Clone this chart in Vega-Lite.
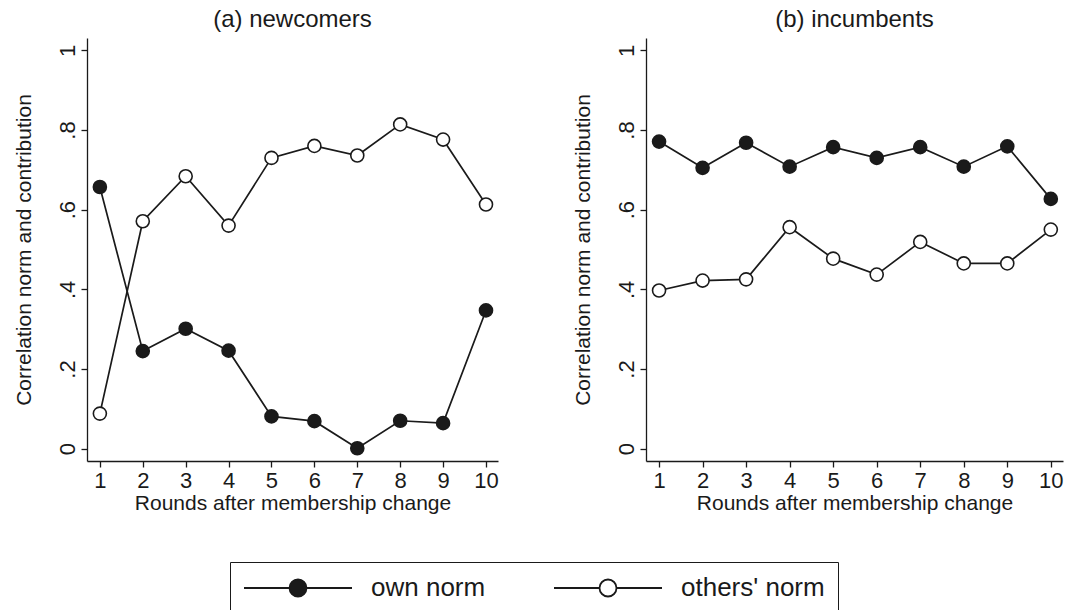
{
  "$schema": "https://vega.github.io/schema/vega-lite/v6.json",
  "background": "white",
  "padding": {"left": 13, "top": 8, "right": 0, "bottom": 0},
  "datasets": {
    "rows": [
      {"panel": "newcomers", "round": 1, "series": "own norm", "value": 0.657},
      {"panel": "newcomers", "round": 2, "series": "own norm", "value": 0.245},
      {"panel": "newcomers", "round": 3, "series": "own norm", "value": 0.301},
      {"panel": "newcomers", "round": 4, "series": "own norm", "value": 0.246},
      {"panel": "newcomers", "round": 5, "series": "own norm", "value": 0.081},
      {"panel": "newcomers", "round": 6, "series": "own norm", "value": 0.069},
      {"panel": "newcomers", "round": 7, "series": "own norm", "value": 0.001},
      {"panel": "newcomers", "round": 8, "series": "own norm", "value": 0.070},
      {"panel": "newcomers", "round": 9, "series": "own norm", "value": 0.064},
      {"panel": "newcomers", "round": 10, "series": "own norm", "value": 0.347},
      {"panel": "newcomers", "round": 1, "series": "others' norm", "value": 0.088},
      {"panel": "newcomers", "round": 2, "series": "others' norm", "value": 0.571},
      {"panel": "newcomers", "round": 3, "series": "others' norm", "value": 0.684},
      {"panel": "newcomers", "round": 4, "series": "others' norm", "value": 0.560},
      {"panel": "newcomers", "round": 5, "series": "others' norm", "value": 0.730},
      {"panel": "newcomers", "round": 6, "series": "others' norm", "value": 0.760},
      {"panel": "newcomers", "round": 7, "series": "others' norm", "value": 0.736},
      {"panel": "newcomers", "round": 8, "series": "others' norm", "value": 0.814},
      {"panel": "newcomers", "round": 9, "series": "others' norm", "value": 0.776},
      {"panel": "newcomers", "round": 10, "series": "others' norm", "value": 0.613},
      {"panel": "incumbents", "round": 1, "series": "own norm", "value": 0.771},
      {"panel": "incumbents", "round": 2, "series": "own norm", "value": 0.705},
      {"panel": "incumbents", "round": 3, "series": "own norm", "value": 0.768},
      {"panel": "incumbents", "round": 4, "series": "own norm", "value": 0.708},
      {"panel": "incumbents", "round": 5, "series": "own norm", "value": 0.757},
      {"panel": "incumbents", "round": 6, "series": "own norm", "value": 0.730},
      {"panel": "incumbents", "round": 7, "series": "own norm", "value": 0.757},
      {"panel": "incumbents", "round": 8, "series": "own norm", "value": 0.708},
      {"panel": "incumbents", "round": 9, "series": "own norm", "value": 0.759},
      {"panel": "incumbents", "round": 10, "series": "own norm", "value": 0.627},
      {"panel": "incumbents", "round": 1, "series": "others' norm", "value": 0.397},
      {"panel": "incumbents", "round": 2, "series": "others' norm", "value": 0.422},
      {"panel": "incumbents", "round": 3, "series": "others' norm", "value": 0.425},
      {"panel": "incumbents", "round": 4, "series": "others' norm", "value": 0.556},
      {"panel": "incumbents", "round": 5, "series": "others' norm", "value": 0.477},
      {"panel": "incumbents", "round": 6, "series": "others' norm", "value": 0.437},
      {"panel": "incumbents", "round": 7, "series": "others' norm", "value": 0.519},
      {"panel": "incumbents", "round": 8, "series": "others' norm", "value": 0.465},
      {"panel": "incumbents", "round": 9, "series": "others' norm", "value": 0.465},
      {"panel": "incumbents", "round": 10, "series": "others' norm", "value": 0.550}
    ]
  },
  "data": {"name": "rows"},
  "config": {
    "font": "Liberation Sans",
    "view": {"stroke": null},
    "axis": {
      "grid": false,
      "domainColor": "#1a1a1a",
      "tickColor": "#1a1a1a",
      "labelColor": "#1a1a1a",
      "titleColor": "#1a1a1a",
      "labelFont": "Liberation Sans",
      "titleFont": "Liberation Sans",
      "labelFontSize": 22,
      "titleFontSize": 21,
      "titleFontWeight": "normal",
      "tickSize": 6,
      "domainWidth": 1.3,
      "tickWidth": 1.3
    },
    "title": {"fontSize": 24, "fontWeight": "normal", "color": "#1a1a1a", "font": "Liberation Sans"},
    "legend": {
      "labelFontSize": 26,
      "labelFont": "Liberation Sans",
      "labelColor": "#1a1a1a",
      "strokeColor": "#1a1a1a",
      "fillColor": "white",
      "padding": 13,
      "symbolType": "M-4.5,0L-0.708,0M0.708,0L4.5,0M-0.708,0A0.708,0.708,0,1,1,0.708,0A0.708,0.708,0,1,1,-0.708,0Z",
      "symbolSize": 576,
      "symbolOffset": 42,
      "labelOffset": 60,
      "columnPadding": 64,
      "symbolStrokeColor": "#1a1a1a",
      "symbolStrokeWidth": 1.8,
      "symbolOpacity": 1
    }
  },
  "spacing": 73,
  "hconcat": [
    {
      "title": {"text": "(a) newcomers", "offset": 6},
      "width": 411,
      "height": 423,
      "transform": [{"filter": "datum.panel === 'newcomers'"}],
      "encoding": {
        "x": {"field": "round", "type": "quantitative",
          "scale": {"domain": [0.7, 10.28], "nice": false, "zero": false},
          "axis": {"values": [1,2,3,4,5,6,7,8,9,10], "format": "d", "title": "Rounds after membership change", "labelPadding": 3, "titlePadding": 1}},
        "y": {"field": "value", "type": "quantitative",
          "scale": {"domain": [-0.031, 1.031], "nice": false, "zero": false},
          "axis": {"values": [0, 0.2, 0.4, 0.6, 0.8, 1], "labelExpr": "datum.value == 0 ? '0' : datum.value == 1 ? '1' : '.' + format(datum.value * 10, 'd')", "labelAngle": 270, "labelAlign": "center", "labelBaseline": "alphabetic", "labelPadding": 7, "title": "Correlation norm and contribution", "titlePadding": 22}},
        "detail": {"field": "series"}
      },
      "layer": [
        {"mark": {"type": "line", "color": "#1a1a1a", "strokeWidth": 1.7}},
        {"mark": {"type": "point", "shape": "circle", "filled": true, "size": 170, "stroke": "#1a1a1a", "strokeWidth": 1.6, "opacity": 1},
          "encoding": {"fill": {"field": "series", "type": "nominal",
            "scale": {"domain": ["own norm", "others' norm"], "range": ["#1a1a1a", "#ffffff"]},
            "legend": {"orient": "none", "legendX": 143, "legendY": 524, "direction": "horizontal", "title": null, "columns": 2}}}}
      ]
    },
    {
      "title": {"text": "(b) incumbents", "offset": 6},
      "width": 417,
      "height": 423,
      "transform": [{"filter": "datum.panel === 'incumbents'"}],
      "encoding": {
        "x": {"field": "round", "type": "quantitative",
          "scale": {"domain": [0.7, 10.28], "nice": false, "zero": false},
          "axis": {"values": [1,2,3,4,5,6,7,8,9,10], "format": "d", "title": "Rounds after membership change", "labelPadding": 3, "titlePadding": 1}},
        "y": {"field": "value", "type": "quantitative",
          "scale": {"domain": [-0.031, 1.031], "nice": false, "zero": false},
          "axis": {"values": [0, 0.2, 0.4, 0.6, 0.8, 1], "labelExpr": "datum.value == 0 ? '0' : datum.value == 1 ? '1' : '.' + format(datum.value * 10, 'd')", "labelAngle": 270, "labelAlign": "center", "labelBaseline": "alphabetic", "labelPadding": 7, "title": "Correlation norm and contribution", "titlePadding": 22}},
        "detail": {"field": "series"}
      },
      "layer": [
        {"mark": {"type": "line", "color": "#1a1a1a", "strokeWidth": 1.7}},
        {"mark": {"type": "point", "shape": "circle", "filled": true, "size": 170, "stroke": "#1a1a1a", "strokeWidth": 1.6, "opacity": 1},
          "encoding": {"fill": {"field": "series", "type": "nominal",
            "scale": {"domain": ["own norm", "others' norm"], "range": ["#1a1a1a", "#ffffff"]},
            "legend": null}}}
      ]
    }
  ]
}
